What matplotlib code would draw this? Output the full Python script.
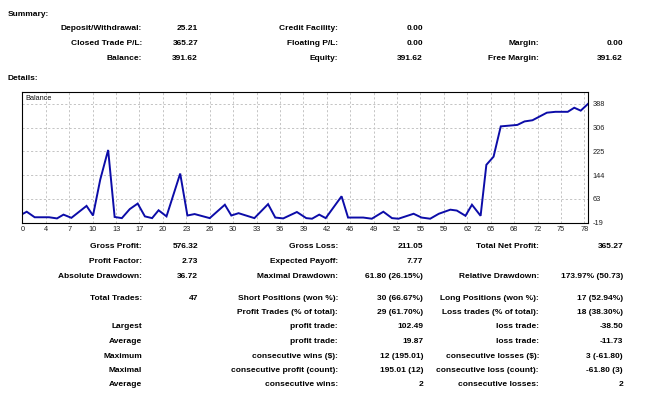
import matplotlib
matplotlib.use("Agg")
import matplotlib.pyplot as plt

plt.rcParams['font.family'] = ['Liberation Sans', 'DejaVu Sans']

# balance curve (trade index, balance)
trade_idx = [0.0, 0.6, 1.7, 3.7, 4.8, 5.7, 6.8, 8.9, 9.8, 10.8, 11.9, 12.8, 13.8, 14.9,
             16.0, 17.0, 18.0, 18.9, 20.0, 21.9, 22.9, 23.9, 26.0, 28.1, 29.0, 30.0,
             32.2, 34.1, 35.1, 36.2, 38.1, 39.4, 40.2, 41.2, 42.1, 44.3, 45.2, 47.3,
             48.5, 50.1, 51.3, 52.2, 54.3, 55.4, 56.6, 57.8, 59.4, 60.3, 61.5, 62.4,
             63.6, 64.4, 65.4, 66.4, 68.7, 69.7, 70.8, 72.8, 74.0, 75.7, 76.6, 77.5, 78.5]
balance = [10, 18, -1, -1, -5, 8, -3, 38, 5, 128, 230, 0, -4, 27,
           46, 2, -4, 23, 2, 149, 5, 10, -4, 42, 5, 13,
           -4, 44, -2, -5, 17, -4, -6, 8, -4, 71, -2, -2,
           -6, 18, -4, -6, 11, -2, -6, 11, 25, 22, 4, 42,
           4, 179, 207, 311, 316, 328, 332, 358, 361, 361, 375, 365, 388]

x_tick_labels = ['0', '4', '7', '10', '13', '17', '20', '23', '26', '30', '33', '36', '39',
                 '42', '46', '49', '52', '55', '59', '62', '65', '68', '72', '75', '78']
y_ticks = [-19, 63, 144, 225, 306, 388]

summary_rows = [
    ['Deposit/Withdrawal:', '25.21', 'Credit Facility:', '0.00', '', ''],
    ['Closed Trade P/L:', '365.27', 'Floating P/L:', '0.00', 'Margin:', '0.00'],
    ['Balance:', '391.62', 'Equity:', '391.62', 'Free Margin:', '391.62'],
]
details_rows = [
    ['Gross Profit:', '576.32', 'Gross Loss:', '211.05', 'Total Net Profit:', '365.27'],
    ['Profit Factor:', '2.73', 'Expected Payoff:', '7.77', '', ''],
    ['Absolute Drawdown:', '36.72', 'Maximal Drawdown:', '61.80 (26.15%)',
     'Relative Drawdown:', '173.97% (50.73)'],
]
trade_rows = [
    ['Total Trades:', '47', 'Short Positions (won %):', '30 (66.67%)',
     'Long Positions (won %):', '17 (52.94%)'],
    ['', '', 'Profit Trades (% of total):', '29 (61.70%)',
     'Loss trades (% of total):', '18 (38.30%)'],
    ['Largest', '', 'profit trade:', '102.49', 'loss trade:', '-38.50'],
    ['Average', '', 'profit trade:', '19.87', 'loss trade:', '-11.73'],
    ['Maximum', '', 'consecutive wins ($):', '12 (195.01)', 'consecutive losses ($):', '3 (-61.80)'],
    ['Maximal', '', 'consecutive profit (count):', '195.01 (12)',
     'consecutive loss (count):', '-61.80 (3)'],
    ['Average', '', 'consecutive wins:', '2', 'consecutive losses:', '2'],
]

W, H = 650, 393
fig = plt.figure(figsize=(W / 100, H / 100), dpi=100)
fig.patch.set_facecolor('white')

col_right = [142, 198, 338, 423, 539, 623]
fs = 6.0


def put(x, y, s, ha='right', bold=True, size=fs):
    fig.text(x / W, 1 - y / H, s, ha=ha, va='center', fontsize=size,
             fontweight='bold' if bold else 'normal', color='#000000')


def put_rows(rows, ys):
    for row, y in zip(rows, ys):
        for cx, s in zip(col_right, row):
            if s:
                put(cx, y, s)


put(8, 15, 'Summary:', ha='left')
put_rows(summary_rows, [29, 43.5, 58])
put(8, 78, 'Details:', ha='left')
put_rows(details_rows, [246, 261.5, 277])
put_rows(trade_rows, [298, 312, 327, 341.5, 356, 370.5, 385])

# balance chart
ax = fig.add_axes([21.7 / W, 1 - 222.5 / H, (588.3 - 21.7) / W, (222.5 - 92) / H])
ax.plot(trade_idx, balance, color='#0c0ca8', lw=1.4, solid_joinstyle='miter')
ax.set_xlim(-0.1, 78.55)
ax.set_ylim(-19, 429)

ax.set_xticks([k * 3.25 for k in range(len(x_tick_labels))])
ax.set_xticklabels(x_tick_labels)
ax.set_yticks(y_ticks)
ax.set_yticklabels([str(v) for v in y_ticks])
ax.yaxis.tick_right()
ax.tick_params(axis='both', length=0, labelsize=5.3, colors='#202020')
ax.tick_params(axis='x', pad=2.5)
ax.tick_params(axis='y', pad=3)
ax.grid(True, color='#c4c4c4', linestyle=(0, (2.2, 2.2)), lw=0.7)
for sp in ax.spines.values():
    sp.set_color('black')
    sp.set_linewidth(0.8)
ax.text(0.006, 0.975, 'Balance', transform=ax.transAxes, ha='left', va='top',
        fontsize=5.3, color='#101010')

fig.savefig('out.png', dpi=100, facecolor='white')
